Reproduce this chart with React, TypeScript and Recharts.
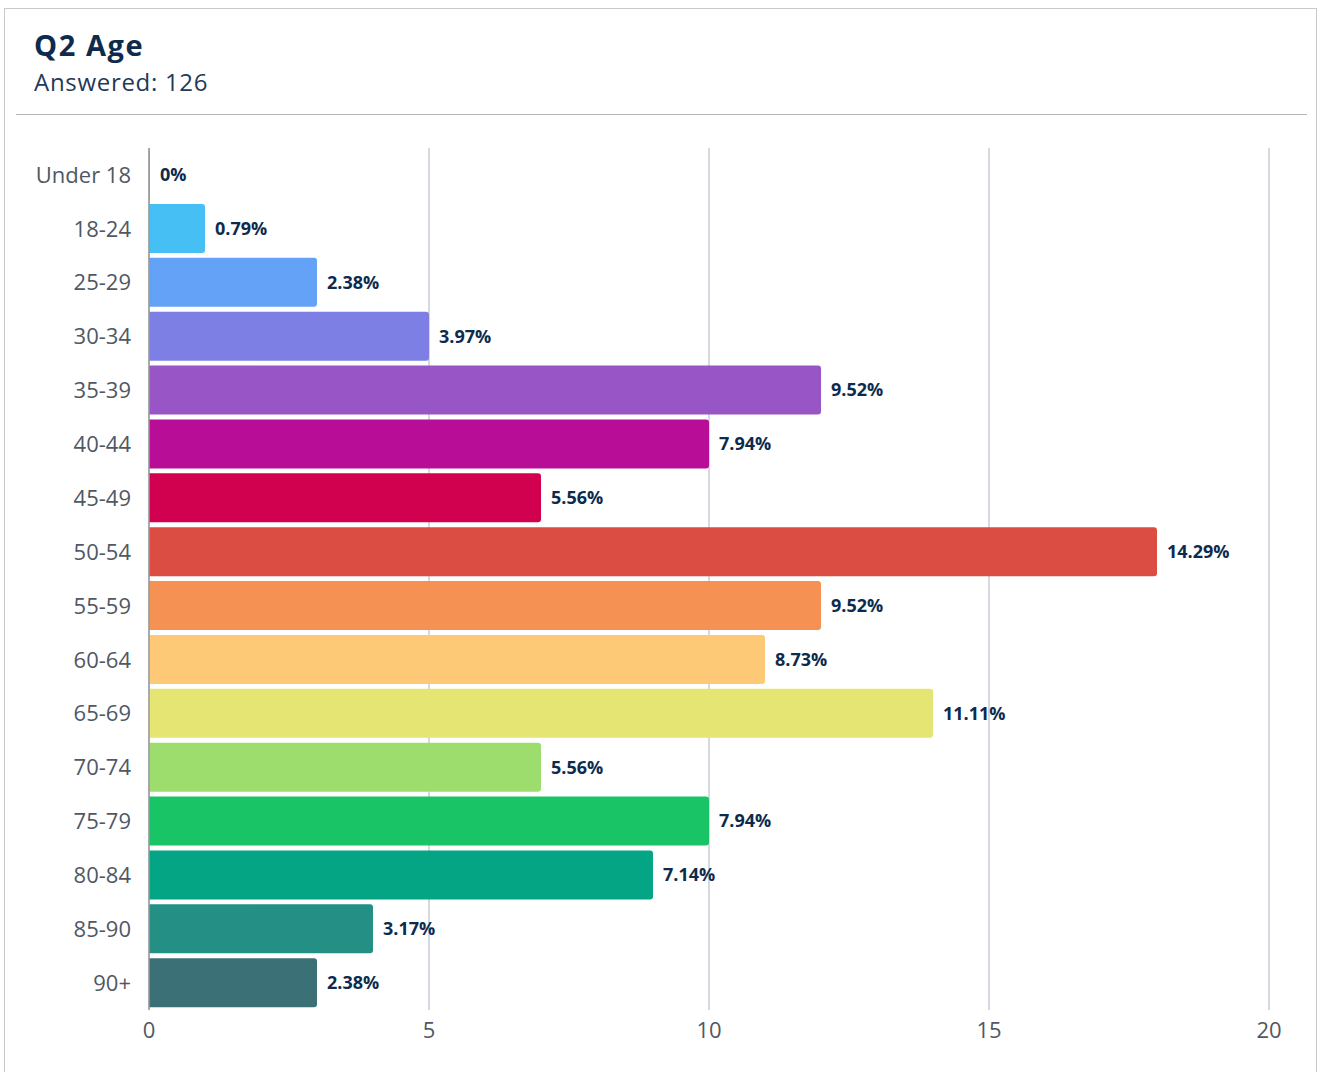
import React from "react";
import {
  BarChart,
  Bar,
  XAxis,
  YAxis,
  CartesianGrid,
  Cell,
  LabelList,
} from "recharts";

// ── Data ──────────────────────────────────────────────────────────────────────

const ageGroups = [
  "Under 18", "18-24", "25-29", "30-34", "35-39", "40-44", "45-49", "50-54",
  "55-59", "60-64", "65-69", "70-74", "75-79", "80-84", "85-90", "90+",
];

const responseCounts = [0, 1, 3, 5, 12, 10, 7, 18, 12, 11, 14, 7, 10, 9, 4, 3];

const percentLabels = [
  "0%", "0.79%", "2.38%", "3.97%", "9.52%", "7.94%", "5.56%", "14.29%",
  "9.52%", "8.73%", "11.11%", "5.56%", "7.94%", "7.14%", "3.17%", "2.38%",
];

const barColors = [
  "#9a9a9a", "#46bff5", "#63a2f7", "#7d7fe4", "#9755c6", "#b80e97", "#d1014f", "#db4c42",
  "#f59152", "#fdc977", "#e5e574", "#9cdd6e", "#19c466", "#04a585", "#248f85", "#3b7077",
];

const xTicks = [0, 5, 10, 15, 20];

const FONT = "'Open Sans', Lato, sans-serif";
const NAVY = "#0d2b4e";

export default function App() {
  const data = ageGroups.map((label, i) => ({
    label,
    count: responseCounts[i],
    pct: percentLabels[i],
  }));

  return (
    <div
      style={{
        position: "absolute",
        left: 0,
        top: 0,
        width: 1320,
        height: 1072,
        overflow: "hidden",
        background: "#fff",
        fontFamily: FONT,
      }}
    >
      {/* card frame */}
      <div
        style={{
          position: "absolute",
          left: 4,
          top: 8,
          width: 1313,
          height: 1090,
          border: "1px solid #c9c9c9",
          boxSizing: "border-box",
        }}
      />
      <div
        style={{
          position: "absolute",
          left: 34,
          top: 26,
          fontSize: 29,
          fontWeight: 700,
          letterSpacing: 1.6,
          color: NAVY,
          lineHeight: "38px",
        }}
      >
        Q2 Age
      </div>
      <div
        style={{
          position: "absolute",
          left: 34,
          top: 66,
          fontSize: 24,
          letterSpacing: 0.7,
          color: "#1f3a58",
          lineHeight: "32px",
        }}
      >
        Answered: 126
      </div>
      <div
        style={{
          position: "absolute",
          left: 16,
          top: 114,
          width: 1291,
          height: 1,
          background: "#b5b5b5",
        }}
      />

      <div style={{ position: "absolute", left: 0, top: 0 }}>
        <BarChart
          width={1320}
          height={1072}
          layout="vertical"
          data={data}
          margin={{ top: 148, right: 51, bottom: 22, left: 0 }}
        >
          <CartesianGrid
            horizontal={false}
            stroke="#c7ced6"
            strokeWidth={1.5}
            verticalValues={xTicks}
          />
          <XAxis
            type="number"
            domain={[0, 20]}
            ticks={xTicks}
            axisLine={false}
            tickLine={false}
            tickSize={0}
            tickMargin={12}
            height={40}
            tick={{ fontSize: 22, fill: "#4f5864", fontFamily: FONT }}
          />
          <YAxis
            type="category"
            dataKey="label"
            width={149}
            axisLine={{ stroke: "#9a9a9a", strokeWidth: 1.5 }}
            tickLine={false}
            tickSize={0}
            tickMargin={18}
            interval={0}
            tick={{ fontSize: 22, fill: "#4f5864", fontFamily: FONT }}
          />
          <Bar
            dataKey="count"
            barSize={49}
            radius={[0, 3, 3, 0]}
            minPointSize={(v: number) => (v === 0 ? 1 : 0)}
            isAnimationActive={false}
          >
            {data.map((d, i) => (
              <Cell key={d.label} fill={barColors[i]} />
            ))}
            <LabelList
              dataKey="pct"
              position="right"
              offset={10}
              style={{
                fontSize: 18,
                fontWeight: 700,
                fill: NAVY,
                fontFamily: FONT,
              }}
            />
          </Bar>
        </BarChart>
      </div>
    </div>
  );
}
